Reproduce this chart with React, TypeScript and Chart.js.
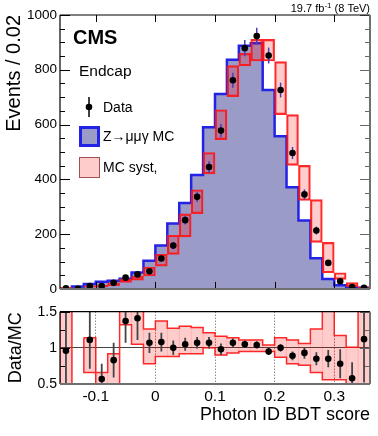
import React, { useEffect, useRef } from "react";
import { Chart, registerables } from "chart.js";
Chart.register(...registerables);

const FONT = "'Liberation Sans', Arial, Helvetica, sans-serif";

// ---- data ----
const BIN_EDGES = [-0.16, -0.14, -0.12, -0.1, -0.08, -0.06, -0.04, -0.02, 0.0, 0.02, 0.04, 0.06, 0.08, 0.1, 0.12, 0.14, 0.16, 0.18, 0.2, 0.22, 0.24, 0.26, 0.28, 0.3, 0.32, 0.34, 0.36];
const DATA = [2, 0, 10, 10, 22, 41, 53, 64, 111, 158, 251, 336, 445, 578, 762, 879, 923, 852, 726, 496, 345, 213, 95, 28, 7, 4];
const DATA_ERR = [1.4, 0, 3.2, 3.2, 4.7, 6.4, 7.3, 8, 10.5, 12.6, 15.8, 18.3, 21.1, 24, 27.6, 29.6, 30.4, 29.2, 26.9, 22.3, 18.6, 14.6, 9.7, 5.3, 2.6, 2];
const MC = [2.1, 0, 9, 17.5, 26.5, 30, 37.5, 60, 103, 158, 239, 314, 416, 590, 712, 837, 888, 897, 726, 557, 371, 250, 112, 36, 13, 4];
const SYST_HI = [6, 2, 11, 14, 22, 37, 47, 80, 126, 196, 274, 362, 498, 654, 815, 860, 911, 911, 830, 636, 451, 326, 170, 59, 23, 8];
const SYST_LO = [0, 0, 6, 7, 12, 24, 32, 47, 83, 126, 190, 275, 420, 545, 702, 814, 832, 832, 636, 451, 323, 170, 59, 35, 8, 0];
const RATIO = [0.96, null, 1.11, 0.57, 0.83, 1.37, 1.41, 1.07, 1.08, 1.0, 1.05, 1.07, 1.07, 0.98, 1.07, 1.05, 1.04, 0.95, 1.0, 0.89, 0.93, 0.85, 0.85, 0.78, 0.58, 1.12];
const RATIO_ERR = [0.6, 0, 0.4, 0.21, 0.24, 0.3, 0.3, 0.14, 0.13, 0.1, 0.09, 0.08, 0.08, 0.08, 0.06, 0.05, 0.05, 0.05, 0.05, 0.06, 0.08, 0.09, 0.12, 0.2, 0.22, 0.6];
const RATIO_SYST_HI = [2, null, 1.14, 0.66, 0.92, 1.6, 1.6, 1.26, 1.37, 1.27, 1.3, 1.28, 1.21, 1.16, 1.14, 1.11, 1.11, 1.04, 1.14, 1.11, 1.06, 1.26, 1.6, 1.17, 1.01, 2];
const RATIO_SYST_LO = [0, null, 0.66, 0.3, 0.3, 1.32, 1.05, 0.78, 0.88, 0.88, 0.92, 0.92, 1.0, 0.9, 0.93, 0.95, 0.95, 0.95, 0.87, 0.78, 0.76, 0.66, 0.56, 0.56, 0.4, 0];

// ---- ticks ----
const X_TICKS = [-0.1, 0, 0.1, 0.2, 0.3];
const Y_TICKS = [0, 200, 400, 600, 800, 1000];
const Y_MINOR = [50, 100, 150, 250, 300, 350, 450, 500, 550, 650, 700, 750, 850, 900, 950];
const R_TICKS = [0.5, 1, 1.5];
const R_MINOR = [0.75, 1.25];

const X_MIN = BIN_EDGES[0];
const X_MAX = BIN_EDGES[BIN_EDGES.length - 1];
const CENTERS = BIN_EDGES.slice(0, -1).map((e, i) => (e + BIN_EDGES[i + 1]) / 2);

const LAVENDER = "rgb(155,155,200)";
const BLUE = "#2323e6";
const PINK = "rgba(255,0,0,0.2)";
const RED = "rgba(255,20,20,0.9)";

const errorBarPlugin = {
  id: "errbars",
  beforeDatasetDraw(chart: any, args: any) {
    const ds = chart.data.datasets[args.index];
    if (!ds.withErr) return;
    const { ctx, chartArea: a, scales } = chart;
    const y = scales.y;
    ctx.save();
    ctx.beginPath();
    ctx.rect(a.left, a.top, a.right - a.left, a.bottom - a.top);
    ctx.clip();
    ctx.strokeStyle = ds.errColor;
    ctx.lineWidth = ds.errWidth;
    args.meta.data.forEach((el: any, i: number) => {
      const d = ds.data[i];
      if (!d || !d.e) return;
      const y1 = y.getPixelForValue(d.y + d.e);
      const y2 = y.getPixelForValue(d.y - d.e);
      ctx.beginPath();
      ctx.moveTo(el.x, y1);
      ctx.lineTo(el.x, y2);
      ctx.stroke();
    });
    ctx.restore();
  },
};

function framePlugin(cfg: any) {
  return {
    id: "frame",
    afterDraw(chart: any) {
      const { ctx, chartArea: a, scales } = chart;
      const x = scales.x, y = scales.y;
      const seg = (x1: number, y1: number, x2: number, y2: number) => {
        ctx.beginPath();
        ctx.moveTo(x1, y1);
        ctx.lineTo(x2, y2);
        ctx.stroke();
      };
      ctx.save();
      ctx.lineWidth = 1;
      const yTick = (vals: number[], len: number) => {
        for (const v of vals) {
          const p = Math.round(y.getPixelForValue(v)) + 0.5;
          ctx.strokeStyle = "#000";
          seg(a.left, p, a.left + len, p);
          ctx.strokeStyle = "#666";
          seg(a.right - len, p, a.right, p);
        }
      };
      yTick(cfg.yMajor, cfg.yMajorLen);
      yTick(cfg.yMinor, cfg.yMinorLen);
      ctx.strokeStyle = "#000";
      for (const v of cfg.xMajor) {
        const p = Math.round(x.getPixelForValue(v)) + 0.5;
        seg(p, a.top, p, a.top + cfg.xLen);
        seg(p, a.bottom - cfg.xLen, p, a.bottom);
      }
      ctx.strokeStyle = "#000";
      ctx.lineWidth = 1.2;
      seg(a.left, a.top, a.right, a.top);
      seg(a.left, a.top, a.left, a.bottom);
      ctx.strokeStyle = "#707070";
      ctx.lineWidth = 2;
      seg(a.right, a.top, a.right, a.bottom);
      seg(a.left, a.bottom, a.right, a.bottom);
      ctx.restore();
    },
  };
}

const topTextPlugin = {
  id: "topText",
  afterDraw(chart: any) {
    const ctx = chart.ctx;
    ctx.save();
    ctx.fillStyle = "#000";
    ctx.textAlign = "left";
    ctx.textBaseline = "alphabetic";
    ctx.font = `bold 20px ${FONT}`;
    ctx.fillText("CMS", 73, 43.5);
    ctx.font = `15.5px ${FONT}`;
    ctx.fillText("Endcap", 79, 76);
    // legend
    ctx.font = `14px ${FONT}`;
    ctx.strokeStyle = "#000";
    ctx.lineWidth = 1.5;
    ctx.beginPath();
    ctx.moveTo(89, 97);
    ctx.lineTo(89, 117);
    ctx.stroke();
    ctx.beginPath();
    ctx.arc(89, 107, 3.3, 0, Math.PI * 2);
    ctx.fill();
    ctx.fillText("Data", 103, 111.7);
    ctx.fillStyle = LAVENDER;
    ctx.fillRect(80, 127, 19, 19);
    ctx.strokeStyle = BLUE;
    ctx.lineWidth = 3;
    ctx.strokeRect(80.5, 127.5, 18, 18);
    ctx.fillStyle = "#000";
    ctx.fillText("Z\u2192\u03bc\u03bc\u03b3 MC", 103, 140.5);
    ctx.fillStyle = "#ffcccc";
    ctx.fillRect(79.5, 157.5, 20, 20);
    ctx.strokeStyle = "#a05050";
    ctx.lineWidth = 1;
    ctx.strokeRect(79.5, 157.5, 20, 20);
    ctx.fillStyle = "#000";
    ctx.fillText("MC syst,", 103, 171.7);
    // lumi
    ctx.textAlign = "right";
    ctx.font = `11px ${FONT}`;
    let xr = 370;
    const p3 = " (8 TeV)";
    ctx.fillText(p3, xr, 12);
    xr -= ctx.measureText(p3).width;
    ctx.font = `8px ${FONT}`;
    ctx.fillText("-1", xr, 8);
    xr -= ctx.measureText("-1").width;
    ctx.font = `11px ${FONT}`;
    ctx.fillText("19.7 fb", xr, 12);
    ctx.restore();
  },
};

const binWidthPx = (c: any) => {
  const s = c.chart.scales.x;
  if (!s) return 10;
  return Math.abs(s.getPixelForValue(BIN_EDGES[1]) - s.getPixelForValue(BIN_EDGES[0]));
};

const bandStyle = {
  type: "bar",
  backgroundColor: PINK,
  borderColor: RED,
  borderWidth: 1.5,
  borderSkipped: false,
  barThickness: binWidthPx,
  barPercentage: 1,
  categoryPercentage: 1,
  grouped: false,
};

const setXTicks = (s: any) => { s.ticks = X_TICKS.map((v) => ({ value: v })); };

function topConfig(): any {
  const mcLine = MC.map((v, i) => ({ x: BIN_EDGES[i], y: v }));
  mcLine.push({ x: BIN_EDGES[MC.length], y: MC[MC.length - 1] });
  return {
    type: "bar",
    data: {
      datasets: [
        {
          type: "line",
          label: "Data",
          data: DATA.map((v, i) => ({ x: CENTERS[i], y: v, e: DATA_ERR[i] })),
          showLine: false,
          pointRadius: 3.3,
          pointHoverRadius: 3.3,
          pointBackgroundColor: "#000",
          pointBorderColor: "#000",
          pointBorderWidth: 0,
          withErr: true,
          errColor: "#4a3cb8",
          errWidth: 1.5,
          order: 1,
        },
        {
          ...bandStyle,
          label: "MC syst",
          data: CENTERS.map((c, i) => ({ x: c, y: [SYST_LO[i], SYST_HI[i]] })),
          order: 2,
        },
        {
          type: "line",
          label: "Z\u2192\u03bc\u03bc\u03b3 MC",
          data: mcLine,
          stepped: "after",
          fill: "origin",
          backgroundColor: LAVENDER,
          borderColor: BLUE,
          borderWidth: 2.5,
          pointRadius: 0,
          order: 3,
        },
      ],
    },
    options: {
      responsive: false,
      animation: false,
      devicePixelRatio: 1,
      events: [],
      layout: { padding: { top: 15, right: 8, bottom: 10.5, left: 0 } },
      plugins: { legend: { display: false }, tooltip: { enabled: false } },
      scales: {
        x: {
          type: "linear",
          min: X_MIN,
          max: X_MAX,
          offset: false,
          grid: { offset: false },
          display: false,
          afterBuildTicks: setXTicks,
        },
        y: {
          type: "linear",
          min: 0,
          max: 1000,
          afterBuildTicks: (s: any) => { s.ticks = Y_TICKS.map((v) => ({ value: v })); },
          afterFit: (s: any) => { s.width = 60; },
          grid: { display: false, drawTicks: false },
          border: { display: false },
          ticks: { padding: 3, color: "#000", font: { family: FONT, size: 13.5 }, callback: (v: any) => String(v) },
          title: {
            display: true,
            text: "Events / 0.02",
            align: "end",
            color: "#000",
            font: { family: FONT, size: 20 },
            padding: { top: 2, bottom: 0 },
          },
        },
      },
    },
    plugins: [
      errorBarPlugin,
      framePlugin({ yMajor: Y_TICKS, yMinor: Y_MINOR, yMajorLen: 10, yMinorLen: 5, xMajor: X_TICKS, xLen: 7 }),
      topTextPlugin,
    ],
  };
}

// closed step outline of the ratio syst band, one polygon per run of filled bins
function ratioOutline() {
  const out: any[] = [];
  let run: number[] = [];
  const flush = () => {
    if (!run.length) return;
    const first = run[0];
    const last = run[run.length - 1];
    for (const i of run) {
      out.push({ x: BIN_EDGES[i], y: RATIO_SYST_HI[i] }, { x: BIN_EDGES[i + 1], y: RATIO_SYST_HI[i] });
    }
    for (const i of run.slice().reverse()) {
      out.push({ x: BIN_EDGES[i + 1], y: RATIO_SYST_LO[i] }, { x: BIN_EDGES[i], y: RATIO_SYST_LO[i] });
    }
    out.push({ x: BIN_EDGES[first], y: RATIO_SYST_HI[first] });
    out.push({ x: BIN_EDGES[last + 1], y: null });
    run = [];
  };
  RATIO_SYST_HI.forEach((h, i) => {
    if (h === null) flush();
    else run.push(i);
  });
  flush();
  return out;
}

function botConfig(): any {
  const pts: any[] = [];
  RATIO.forEach((r, i) => { if (r !== null) pts.push({ x: CENTERS[i], y: r, e: RATIO_ERR[i] }); });
  const band: any[] = [];
  RATIO_SYST_HI.forEach((h, i) => { if (h !== null) band.push({ x: CENTERS[i], y: [RATIO_SYST_LO[i], h] }); });
  return {
    type: "bar",
    data: {
      datasets: [
        {
          type: "line",
          label: "Data/MC",
          data: pts,
          showLine: false,
          pointRadius: 3.3,
          pointHoverRadius: 3.3,
          pointBackgroundColor: "#000",
          pointBorderColor: "#000",
          pointBorderWidth: 0,
          withErr: true,
          errColor: "#444",
          errWidth: 1.8,
          order: 1,
        },
        {
          type: "line",
          label: "MC syst outline",
          data: ratioOutline(),
          showLine: true,
          spanGaps: false,
          fill: false,
          borderColor: RED,
          borderWidth: 1.5,
          pointRadius: 0,
          tension: 0,
          clip: 0,
          order: 2,
        },
        {
          ...bandStyle,
          label: "MC syst",
          data: band,
          borderWidth: 0,
          clip: 0,
          order: 3,
        },
      ],
    },
    options: {
      responsive: false,
      animation: false,
      devicePixelRatio: 1,
      events: [],
      layout: { padding: { top: 11.7, right: 8, bottom: 0, left: 0 } },
      plugins: { legend: { display: false }, tooltip: { enabled: false } },
      scales: {
        x: {
          type: "linear",
          min: X_MIN,
          max: X_MAX,
          offset: false,
          afterBuildTicks: setXTicks,
          afterFit: (s: any) => { s.height = 52; },
          grid: { display: true, offset: false, drawTicks: false, color: "#555", lineWidth: 1 },
          border: { display: false, dash: [1, 2] },
          ticks: {
            padding: 3,
            autoSkip: false,
            maxRotation: 0,
            minRotation: 0,
            color: "#000",
            font: { family: FONT, size: 15.5 },
            callback: (v: any) => { const r = Math.round(v * 10) / 10; return r === 0 ? "0" : String(r); },
          },
          title: {
            display: true,
            text: "Photon ID BDT score",
            align: "end",
            color: "#000",
            font: { family: FONT, size: 18 },
            padding: { top: 0, bottom: 10 },
          },
        },
        y: {
          type: "linear",
          min: 0.5,
          max: 1.5,
          afterBuildTicks: (s: any) => { s.ticks = R_TICKS.map((v) => ({ value: v })); },
          afterFit: (s: any) => { s.width = 60; },
          grid: {
            drawTicks: false,
            color: (c: any) => (c.tick && c.tick.value === 1 ? "#444" : "rgba(0,0,0,0)"),
            lineWidth: 1,
          },
          border: { display: false },
          ticks: { padding: 3, color: "#000", font: { family: FONT, size: 14 }, callback: (v: any) => String(v) },
          title: {
            display: true,
            text: "Data/MC",
            align: "center",
            color: "#000",
            font: { family: FONT, size: 18 },
            padding: { top: 5, bottom: 0 },
          },
        },
      },
    },
    plugins: [
      errorBarPlugin,
      framePlugin({ yMajor: R_TICKS, yMinor: R_MINOR, yMajorLen: 10, yMinorLen: 5, xMajor: [], xLen: 0 }),
    ],
  };
}

export default function App() {
  const topRef = useRef<HTMLCanvasElement>(null);
  const botRef = useRef<HTMLCanvasElement>(null);
  useEffect(() => {
    document.body.style.margin = "0";
    Chart.defaults.font.family = FONT;
    Chart.defaults.color = "#000";
    const top = new Chart(topRef.current as HTMLCanvasElement, topConfig());
    const bot = new Chart(botRef.current as HTMLCanvasElement, botConfig());
    return () => {
      top.destroy();
      bot.destroy();
    };
  }, []);
  return (
    <div style={{ position: "relative", width: 378, height: 436, background: "#fff" }}>
      <canvas ref={topRef} width={378} height={300} style={{ position: "absolute", left: 0, top: 0, width: 378, height: 300 }} />
      <canvas ref={botRef} width={378} height={136} style={{ position: "absolute", left: 0, top: 300, width: 378, height: 136 }} />
    </div>
  );
}
